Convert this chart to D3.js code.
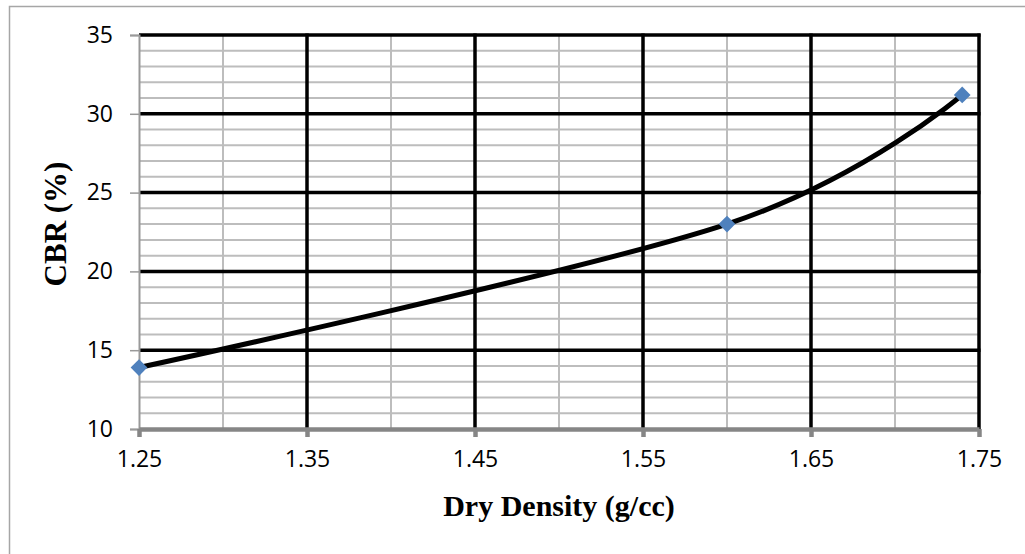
<!DOCTYPE html>
<html>
<head>
<meta charset="utf-8">
<script src="https://cdn.jsdelivr.net/npm/d3@7"></script>
<style>
  body { margin: 0; background: #fff; }
  svg { display: block; }
</style>
</head>
<body>
<div id="chart"></div>
<script>
  // values
  const density = [1.25, 1.6, 1.74];
  const cbr = [13.9, 23.0, 31.2];
  const xTicks = [1.25, 1.35, 1.45, 1.55, 1.65, 1.75];
  const yTicks = [10, 15, 20, 25, 30, 35];
  const xTitle = "Dry Density (g/cc)";
  const yTitle = "CBR (%)";

  const width = 1025;
  const height = 554;
  const margin = { top: 35, left: 139, right: 46, bottom: 125 };

  const svg = d3.select("#chart").append("svg")
    .attr("width", width)
    .attr("height", height);

  // outer chart border (runs off right and bottom)
  svg.append("rect")
    .attr("x", 9.5).attr("y", 6.5)
    .attr("width", width + 20).attr("height", height + 20)
    .attr("fill", "none")
    .attr("stroke", "#a6a6a6")
    .attr("stroke-width", 1.5);

  const x = d3.scaleLinear()
    .domain([1.25, 1.75])
    .range([margin.left, width - margin.right]);
  const y = d3.scaleLinear()
    .domain([10, 35])
    .range([height - margin.bottom, margin.top]);

  const grid = svg.append("g");

  // minor grid
  const xMinor = d3.range(1.30, 1.75, 0.1).map(v => +v.toFixed(2));
  const yMinor = d3.range(11, 35).filter(v => v % 5 !== 0);

  grid.selectAll(".hmin").data(yMinor).enter().append("line")
    .attr("x1", x(1.25)).attr("x2", x(1.75))
    .attr("y1", d => y(d)).attr("y2", d => y(d))
    .attr("stroke", "#bdbdbd").attr("stroke-width", 2);

  grid.selectAll(".vmin").data(xMinor).enter().append("line")
    .attr("x1", d => x(d)).attr("x2", d => x(d))
    .attr("y1", y(10)).attr("y2", y(35))
    .attr("stroke", "#bdbdbd").attr("stroke-width", 2);

  // major grid
  grid.selectAll(".hmaj").data(yTicks.filter(d => d > 10)).enter().append("line")
    .attr("x1", x(1.25)).attr("x2", x(1.75) + 1.5)
    .attr("y1", d => y(d)).attr("y2", d => y(d))
    .attr("stroke", "#000").attr("stroke-width", 3.5);

  grid.selectAll(".vmaj").data(xTicks.filter(d => d > 1.25)).enter().append("line")
    .attr("x1", d => x(d)).attr("x2", d => x(d))
    .attr("y1", y(10)).attr("y2", y(35) - 1.5)
    .attr("stroke", "#000").attr("stroke-width", 3.5);

  // y axis
  const yAxis = svg.append("g")
    .attr("transform", `translate(${x(1.25)},0)`)
    .call(d3.axisLeft(y).tickValues(yTicks).tickSize(9).tickPadding(17));
  yAxis.select(".domain").attr("stroke", "#999").attr("stroke-width", 2);
  yAxis.selectAll(".tick line").attr("stroke", "#999").attr("stroke-width", 1.5);
  yAxis.selectAll("text")
    .style("font-family", "'Open Sans', sans-serif")
    .style("font-size", "23px")
    .attr("fill", "#000");

  // x axis
  const xAxis = svg.append("g")
    .attr("transform", `translate(0,${y(10)})`)
    .call(d3.axisBottom(x).tickValues(xTicks).tickFormat(d3.format(".2f"))
      .tickSize(8).tickSizeOuter(0).tickPadding(14));
  xAxis.select(".domain").attr("stroke", "#868686").attr("stroke-width", 4.5);
  xAxis.selectAll(".tick line").attr("stroke", "#868686").attr("stroke-width", 4.5);
  xAxis.selectAll("text")
    .style("font-family", "'Open Sans', sans-serif")
    .style("font-size", "23px")
    .attr("fill", "#000");

  // smoothed line
  const points = density.map((d, i) => ({ x: d, y: cbr[i] }));
  const line = d3.line()
    .x(d => x(d.x))
    .y(d => y(d.y))
    .curve(d3.curveCatmullRom.alpha(0));

  svg.append("path")
    .datum(points)
    .attr("d", line)
    .attr("fill", "none")
    .attr("stroke", "#000")
    .attr("stroke-width", 5)
    .attr("stroke-linecap", "round");

  svg.selectAll(".marker").data(points).enter().append("path")
    .attr("d", d3.symbol().type(d3.symbolSquare).size(140))
    .attr("transform", d => `translate(${x(d.x)},${y(d.y)}) rotate(45)`)
    .attr("fill", "#4f81bd");

  // titles
  svg.append("text")
    .attr("x", (x(1.25) + x(1.75)) / 2)
    .attr("y", 516)
    .attr("text-anchor", "middle")
    .style("font-family", "'Liberation Serif', 'Times New Roman', serif")
    .style("font-weight", "bold")
    .style("font-size", "30px")
    .text(xTitle);

  svg.append("text")
    .attr("transform", "translate(66,224) rotate(-90)")
    .attr("text-anchor", "middle")
    .style("font-family", "'Liberation Serif', 'Times New Roman', serif")
    .style("font-weight", "bold")
    .style("font-size", "31px")
    .text(yTitle);
</script>
</body>
</html>
